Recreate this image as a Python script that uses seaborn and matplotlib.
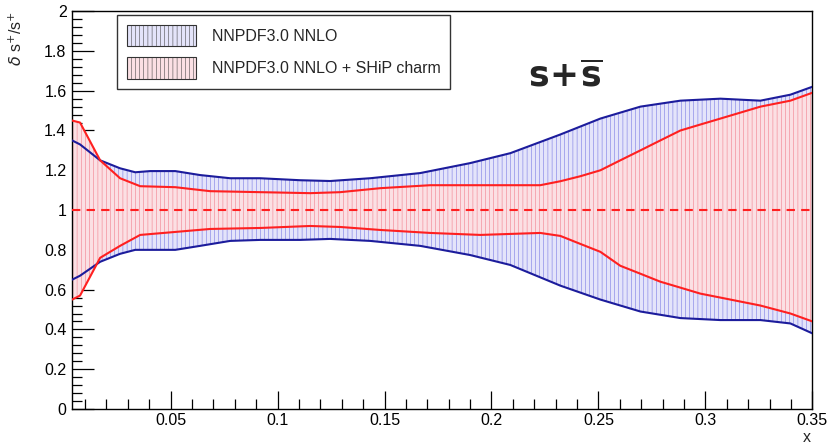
import matplotlib
matplotlib.use("Agg")
import matplotlib.pyplot as plt
import seaborn as sns
import numpy as np
import pandas as pd
from matplotlib.patches import Patch
from matplotlib.ticker import MultipleLocator

# ---- data ----
x_blue = [0.004, 0.0077, 0.0171, 0.0264, 0.0335, 0.0405, 0.0522, 0.0638, 0.0779, 0.0919,
          0.1106, 0.1246, 0.1433, 0.1667, 0.19, 0.2088, 0.2322, 0.2509, 0.2696, 0.2883,
          0.307, 0.3257, 0.3397, 0.35]
blue_up = [1.35, 1.33, 1.25, 1.21, 1.19, 1.196, 1.196, 1.176, 1.16, 1.16,
           1.15, 1.146, 1.16, 1.186, 1.236, 1.286, 1.38, 1.46, 1.52, 1.55,
           1.56, 1.55, 1.58, 1.62]
blue_lo = [0.65, 0.67, 0.74, 0.78, 0.80, 0.80, 0.80, 0.82, 0.845, 0.85,
           0.85, 0.855, 0.845, 0.82, 0.774, 0.724, 0.62, 0.55, 0.49, 0.457,
           0.447, 0.447, 0.43, 0.38]

x_red = [0.004, 0.0077, 0.0171, 0.0264, 0.0358, 0.0522, 0.0685, 0.0919, 0.1153, 0.1293,
         0.148, 0.1714, 0.1948, 0.2228, 0.2322, 0.2415, 0.2509, 0.2602, 0.2696, 0.2789,
         0.2883, 0.2976, 0.307, 0.3257, 0.3397, 0.35]
red_up = [1.45, 1.44, 1.25, 1.16, 1.12, 1.115, 1.095, 1.09, 1.085, 1.09,
          1.11, 1.125, 1.125, 1.125, 1.145, 1.17, 1.20, 1.25, 1.30, 1.35,
          1.40, 1.43, 1.46, 1.52, 1.55, 1.59]
red_lo = [0.55, 0.57, 0.76, 0.82, 0.875, 0.89, 0.905, 0.91, 0.92, 0.915,
          0.90, 0.885, 0.875, 0.885, 0.87, 0.83, 0.79, 0.72, 0.68, 0.64,
          0.61, 0.58, 0.56, 0.52, 0.48, 0.44]

labels = ["NNPDF3.0 NNLO", "NNPDF3.0 NNLO + SHiP charm"]
xticks = [0.05, 0.1, 0.15, 0.2, 0.25, 0.3, 0.35]
yticks = [0, 0.2, 0.4, 0.6, 0.8, 1, 1.2, 1.4, 1.6, 1.8, 2]

sns.set_theme(style="white")
plt.rcParams['font.family'] = ['Liberation Sans', 'DejaVu Sans']
plt.rcParams['hatch.linewidth'] = 0.35

BLUE = "#1c1c9c"
RED = "#ff2020"

fig = plt.figure(figsize=(8.29, 4.46), dpi=100)
ax = fig.add_axes([0.087, 0.083, 0.893, 0.892])

# bands
ax.fill_between(x_blue, blue_lo, blue_up, facecolor="#e4e4fa", edgecolor="#6a6ae0",
                hatch="||||", linewidth=0, zorder=1)
ax.fill_between(x_red, red_lo, red_up, facecolor="#fbe0e4", edgecolor="#f07080",
                hatch="||||", linewidth=0, zorder=2)

df_b = pd.DataFrame({"x": x_blue + x_blue,
                     "y": blue_up + blue_lo,
                     "edge": ["up"] * len(x_blue) + ["lo"] * len(x_blue)})
df_r = pd.DataFrame({"x": x_red + x_red,
                     "y": red_up + red_lo,
                     "edge": ["up"] * len(x_red) + ["lo"] * len(x_red)})
sns.lineplot(data=df_b, x="x", y="y", units="edge", estimator=None, sort=False,
             color=BLUE, linewidth=1.5, ax=ax, zorder=3)
sns.lineplot(data=df_r, x="x", y="y", units="edge", estimator=None, sort=False,
             color=RED, linewidth=1.5, ax=ax, zorder=4)

ax.axhline(1.0, color=RED, linestyle=(0, (4, 3)), linewidth=1.5, zorder=5)

ax.set_xlim(0.004, 0.35)
ax.set_ylim(0, 2)
ax.set_xticks(xticks)
ax.set_xticklabels([f"{t:g}" for t in xticks])
ax.set_yticks(yticks)
ax.set_yticklabels([f"{t:g}" for t in yticks])
ax.xaxis.set_minor_locator(MultipleLocator(0.01))
ax.yaxis.set_minor_locator(MultipleLocator(0.04))
ax.tick_params(axis="both", which="both", direction="in", width=0.9, colors="black",
               bottom=True, left=True, top=False, right=False, labelsize=11.5)
ax.tick_params(axis="y", which="major", length=16, pad=4)
ax.tick_params(axis="y", which="minor", length=7)
ax.tick_params(axis="x", which="major", length=13, pad=3)
ax.tick_params(axis="x", which="minor", length=7)
for s in ax.spines.values():
    s.set_color("black")
    s.set_linewidth(1.0)

ax.set_xlabel("x", fontsize=11.5)
ax.xaxis.set_label_coords(0.993, -0.072)
ax.xaxis.label.set_ha("center")
ax.xaxis.label.set_va("center")
ax.set_ylabel(r"$\delta$ s$^{+}$/s$^{+}$", loc="top", fontsize=11.5, labelpad=14)

ax.text(0.2345, 1.67, r"$\mathbf{s\!+\!\overline{s}}$", fontsize=25, ha="center",
        va="center", zorder=6)

handles = [Patch(facecolor="#e4e4fa", edgecolor="#6a6ae0", hatch="||||", linewidth=0),
           Patch(facecolor="#fbe0e4", edgecolor="#f07080", hatch="||||", linewidth=0)]
leg = ax.legend(handles, labels, loc="upper left", bbox_to_anchor=(0.061, 0.99),
                fontsize=11.5, frameon=True, fancybox=False, borderpad=0.6,
                handlelength=4.3, handleheight=1.7, labelspacing=0.7,
                handletextpad=1.0, borderaxespad=0)
leg.get_frame().set_edgecolor("black")
leg.get_frame().set_linewidth(1.0)
for h in leg.legend_handles:
    h.set_edgecolor("#333333")
    h.set_linewidth(0.8)

fig.savefig("out.png", dpi=100)
